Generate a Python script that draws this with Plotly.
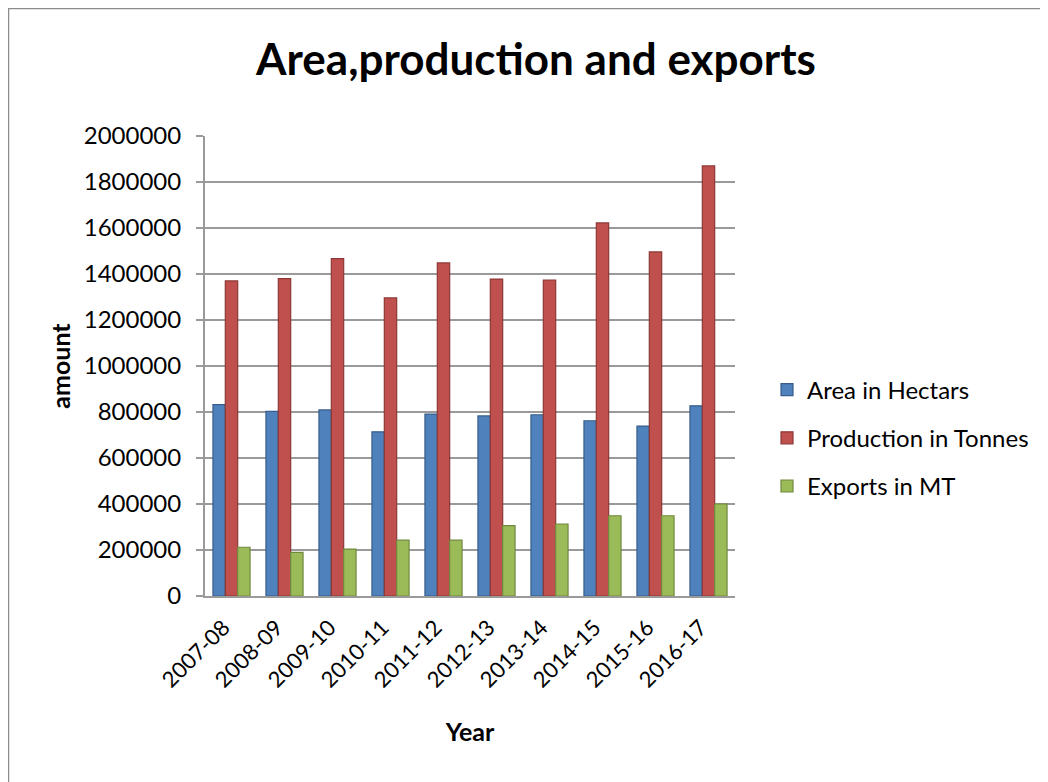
import plotly.graph_objects as go

years = ["2007-08", "2008-09", "2009-10", "2010-11", "2011-12",
         "2012-13", "2013-14", "2014-15", "2015-16", "2016-17"]
area_hectares = [832000, 803000, 809000, 714000, 791000, 783000, 788000, 762000, 739000, 827000]
production_tonnes = [1370000, 1380000, 1467000, 1296000, 1448000, 1378000, 1374000, 1622000, 1496000, 1870000]
exports_mt = [212000, 190000, 204000, 243000, 243000, 306000, 313000, 349000, 349000, 400000]
series_names = ["Area in Hectars", "Production in Tonnes", "Exports in MT"]
y_ticks = [0, 200000, 400000, 600000, 800000, 1000000, 1200000, 1400000, 1600000, 1800000, 2000000]

colors = ["#4F81BD", "#C0504D", "#9BBB59"]
edges = ["#385D8A", "#8C3836", "#71893F"]
FONT = "Lato, Open Sans, sans-serif"

fig = go.Figure()
for i, (name, vals) in enumerate(zip(series_names, [area_hectares, production_tonnes, exports_mt])):
    fig.add_trace(go.Bar(
        x=years, y=vals, name=name, legendgroup=name,
        marker=dict(color=colors[i], line=dict(color=edges[i], width=1.2)),
    ))

# the page adds an 8px body margin, so reference pixel positions are shifted by 8
OFF = 8
W, H = 1048, 782
L, R, T, B = 205 - OFF, 735 - OFF, 136 - OFF, 596 - OFF

def px(x):
    return (x - OFF - L) / (R - L)

def py(y):
    return (B - (y - OFF)) / (B - T)

fig.update_layout(
    width=W, height=H,
    margin=dict(l=L, r=W - R, t=T, b=H - B, autoexpand=False),
    paper_bgcolor="#ffffff",
    plot_bgcolor="rgba(0,0,0,0)",
    barmode="group", bargap=0.3, bargroupgap=0,
    font=dict(family=FONT, color="#000000", size=24),
    title=dict(text="<b>Area,production and exports</b>", x=px(536), xref="paper",
               y=1 - (60 - OFF) / H, yref="container", yanchor="middle", xanchor="center",
               font=dict(family=FONT, size=44, color="#000000")),
    legend=dict(x=px(767), xanchor="left", y=py(438), yanchor="middle",
                font=dict(family=FONT, size=24), tracegroupgap=14,
                traceorder="grouped", bgcolor="rgba(0,0,0,0)", itemwidth=30),
    showlegend=True,
    shapes=[
        dict(type="rect", xref="paper", yref="paper",
             x0=px(8.5), x1=px(1070), y0=py(820), y1=py(8.5),
             fillcolor="rgba(0,0,0,0)", line=dict(color="#8c8c8c", width=1.5), layer="below"),
    ],
)
fig.update_yaxes(
    range=[0, 2000000], tickvals=y_ticks, ticktext=[str(v) for v in y_ticks],
    showgrid=True, gridcolor="#9a9a9a", gridwidth=2,
    showline=True, linecolor="#9a9a9a", linewidth=2,
    ticks="outside", ticklen=7, tickcolor="#9a9a9a", tickwidth=2,
    ticklabelstandoff=10,
    tickfont=dict(family=FONT, size=24), zeroline=False,
    title=dict(text="<b>amount</b>", font=dict(family=FONT, size=25), standoff=6),
)
fig.update_xaxes(
    type="category",
    showline=True, linecolor="#9a9a9a", linewidth=2,
    tickangle=-45, tickfont=dict(family=FONT, size=22), ticks="",
    ticklabelstandoff=8, ticklabelshift=-8,
    title=dict(text="<b>Year</b>", font=dict(family=FONT, size=25), standoff=32),
)

fig.write_html("out.html")
